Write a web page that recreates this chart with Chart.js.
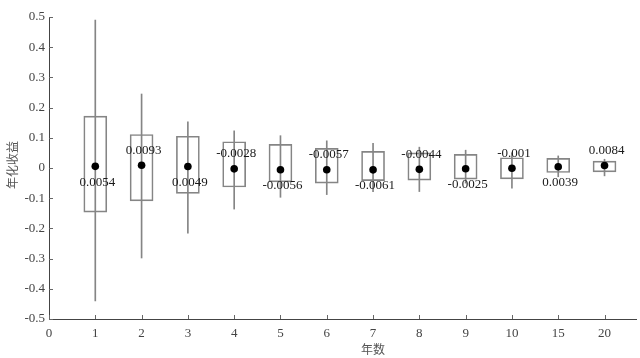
<!DOCTYPE html>
<html><head><meta charset="utf-8">
<script src="https://cdn.jsdelivr.net/npm/chart.js@4/dist/chart.umd.min.js"></script>
<style>html,body{margin:0;padding:0;background:#fff}#wrap{width:640px;height:358px}</style>
</head><body><div id="wrap"><canvas id="c"></canvas></div>
<script>
const categories = ['1','2','3','4','5','6','7','8','9','10','15','20'];
const xTickLabels = ['0','1','2','3','4','5','6','7','8','9','10','15','20'];
const means   = [0.0054, 0.0093, 0.0049, -0.0028, -0.0056, -0.0057, -0.0061, -0.0044, -0.0025, -0.001, 0.0039, 0.0084];
const meanLabels = ['0.0054','0.0093','0.0049','-0.0028','-0.0056','-0.0057','-0.0061','-0.0044','-0.0025','-0.001','0.0039','0.0084'];
const labelAbove = [false, true, false, true, false, true, false, true, false, true, false, true];
const whiskerHigh = [0.49, 0.245, 0.153, 0.123, 0.107, 0.090, 0.082, 0.069, 0.059, 0.050, 0.040, 0.029];
const whiskerLow  = [-0.44, -0.298, -0.216, -0.136, -0.097, -0.088, -0.078, -0.078, -0.050, -0.067, -0.029, -0.026];
const boxHigh = [0.172, 0.111, 0.105, 0.087, 0.078, 0.065, 0.055, 0.050, 0.045, 0.034, 0.032, 0.023];
const boxLow  = [-0.146, -0.109, -0.084, -0.063, -0.046, -0.050, -0.042, -0.040, -0.037, -0.036, -0.015, -0.013];
const yTicks = [-0.5,-0.4,-0.3,-0.2,-0.1,0,0.1,0.2,0.3,0.4,0.5];

const pos = categories.map((_, i) => i + 1);
const serif = "'Liberation Serif', 'DejaVu Serif', serif";

const extras = {
  id: 'extras',
  afterDatasetsDraw(chart) {
    const ctx = chart.ctx, xs = chart.scales.x, ys = chart.scales.y;
    ctx.save();
    // inward tick marks
    ctx.strokeStyle = '#666'; ctx.lineWidth = 1;
    ctx.beginPath();
    yTicks.forEach(v => {
      const y = Math.round(ys.getPixelForValue(v)) + 0.5;
      ctx.moveTo(xs.left, y); ctx.lineTo(xs.left + 4, y);
    });
    for (let i = 0; i < xTickLabels.length; i++) {
      const x = Math.round(xs.getPixelForValue(i)) + 0.5;
      ctx.moveTo(x, ys.bottom); ctx.lineTo(x, ys.bottom - 4);
    }
    ctx.stroke();
    // mean labels
    ctx.fillStyle = '#1a1a1a';
    ctx.font = '13px ' + serif;
    ctx.textAlign = 'center'; ctx.textBaseline = 'middle';
    means.forEach((m, i) => {
      const x = xs.getPixelForValue(pos[i]) + 2;
      const y = ys.getPixelForValue(m) + (labelAbove[i] ? -15 : 16);
      ctx.fillText(meanLabels[i], x, y);
    });
    // axis titles
    ctx.fillStyle = '#555';
    ctx.font = "12px 'Noto Sans CJK SC'";
    ctx.fillText('年数', xs.getPixelForValue(7), 349);
    ctx.translate(12, (ys.top + ys.bottom) / 2 - 3);
    ctx.rotate(-Math.PI / 2);
    ctx.fillText('年化收益', 0, 0);
    ctx.restore();
  }
};

new Chart(document.getElementById('c'), {
  data: {
    datasets: [
      {
        type: 'bar', label: 'box',
        data: pos.map((x, i) => ({ x, y: [boxLow[i], boxHigh[i]] })),
        backgroundColor: 'rgba(0,0,0,0)', borderColor: '#858585', borderWidth: 1,
        borderSkipped: false, barThickness: 23, grouped: false, order: 3
      },
      {
        type: 'bar', label: 'whisker',
        data: pos.map((x, i) => ({ x, y: [whiskerLow[i], whiskerHigh[i]] })),
        backgroundColor: '#858585', borderWidth: 0,
        barThickness: 1, grouped: false, order: 2
      },
      {
        type: 'scatter', label: 'mean',
        data: pos.map((x, i) => ({ x, y: means[i] })),
        pointRadius: 3.8, pointBackgroundColor: '#000', pointBorderWidth: 0, order: 1
      }
    ]
  },
  options: {
    responsive: true, maintainAspectRatio: false, animation: false,
    layout: { padding: { top: 17, right: 0, left: 0, bottom: 0 } },
    plugins: { legend: { display: false }, tooltip: { enabled: false } },
    scales: {
      x: {
        type: 'linear', min: 0, max: 12.68, offset: false,
        grid: { display: false, drawTicks: false },
        border: { display: true, color: '#444', width: 1 },
        ticks: {
          stepSize: 1, includeBounds: false, autoSkip: false, maxRotation: 0,
          padding: 7, color: '#444', font: { family: serif, size: 13 },
          callback: v => (Number.isInteger(v) && v < xTickLabels.length) ? xTickLabels[v] : ''
        },
        afterFit: s => { s.height = 39; }
      },
      y: {
        type: 'linear', min: -0.5, max: 0.5,
        grid: { display: false, drawTicks: false },
        border: { display: true, color: '#444', width: 1 },
        ticks: {
          stepSize: 0.1, padding: 4, color: '#444', font: { family: serif, size: 13 },
          callback: v => String(Number(v.toFixed(1)))
        },
        afterFit: s => { s.width = 49; }
      }
    }
  },
  plugins: [extras]
});
</script></body></html>
